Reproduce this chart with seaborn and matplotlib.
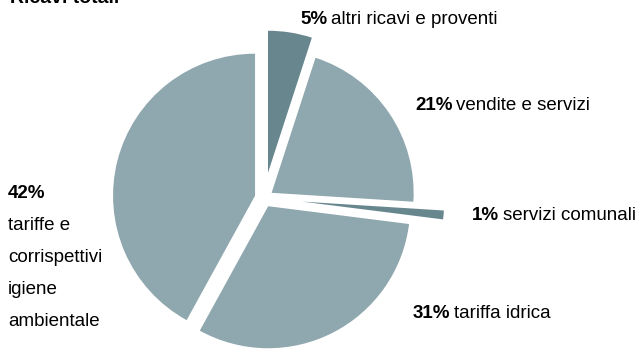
import matplotlib
matplotlib.use("Agg")
import matplotlib.pyplot as plt
import seaborn as sns

# dati ricavi
categorie = ["altri ricavi e proventi", "vendite e servizi", "servizi comunali",
             "tariffa idrica", "tariffe e\ncorrispettivi\nigiene\nambientale"]
quote = [5, 21, 1, 31, 42]
esplodi = [0.18, 0.065, 0.27, 0.065, 0.065]
colori = ["#67868e", "#8fa7ae", "#67868e", "#8fa7ae", "#8fa7ae"]

sns.set_style("white")
plt.rcParams['font.family'] = ['Liberation Sans', 'DejaVu Sans']
plt.rcParams['text.color'] = 'black'

W, H = 637, 349
fig = plt.figure(figsize=(W / 100, H / 100), dpi=100)
ax = fig.add_axes([0, 0, 1, 1])

ax.pie(quote, explode=esplodi, colors=colori, startangle=90, counterclock=False,
       radius=1, wedgeprops=dict(linewidth=0))

# centro torta e raggio in pixel
cx, cy, r = 264, 198, 142
ax.set_xlim(-cx / r, (W - cx) / r)
ax.set_ylim(-(H - cy) / r, cy / r)
ax.set_aspect('auto')
ax.axis('off')

def px(x, y):
    return x / W, 1 - y / H

fig.text(*px(10, 3), "Ricavi totali", fontsize=14, fontweight='bold', va='baseline')

renderer = fig.canvas.get_renderer()
fs = 13.5

def etichetta(x, y, pct, testo):
    t = fig.text(*px(x, y), pct, fontsize=fs, fontweight='bold', va='center')
    bb = t.get_window_extent(renderer=renderer)
    fig.text(*px(x + bb.width + 4, y), testo, fontsize=fs, va='center')

pos = [(300, 20), (415, 105), (472, 216), (413, 313)]
for (x, y), q, c in zip(pos, quote[:4], categorie[:4]):
    etichetta(x, y, f"{q}%", c)

fig.text(*px(8, 193), f"{quote[4]}%", fontsize=fs, fontweight='bold', va='center')
for i, riga in enumerate(categorie[4].split("\n")):
    fig.text(*px(8, 225 + 32 * i), riga, fontsize=fs, va='center')

fig.savefig("out.png", dpi=100)
